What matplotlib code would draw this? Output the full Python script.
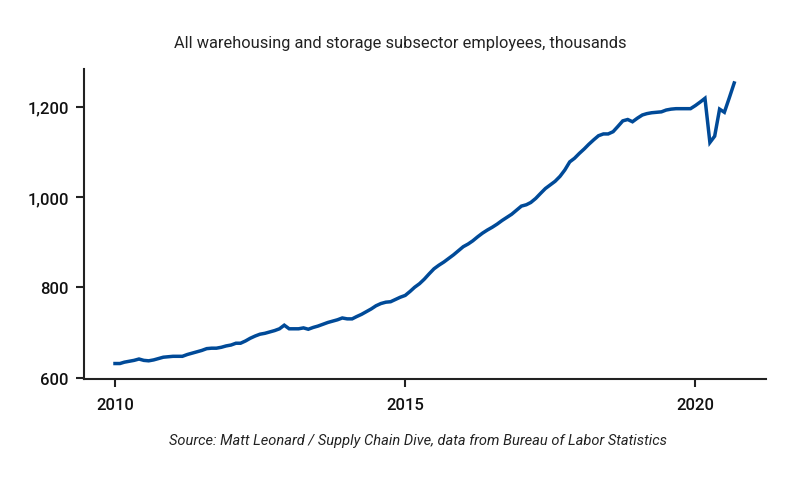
import pandas as pd
import matplotlib
matplotlib.use("Agg")
import matplotlib.pyplot as plt
import matplotlib.dates as mdates
from matplotlib.ticker import FuncFormatter

plt.rcParams['font.family'] = ['Roboto', 'DejaVu Sans']

# monthly employees (thousands), Jan 2010 - Sep 2020
employees = [
    631, 631, 634, 636, 638, 641, 638, 637, 639, 642, 645, 646,
    647, 647, 647, 651, 654, 657, 660, 664, 665, 665, 667, 670,
    672, 676, 676, 681, 687, 692, 696, 698, 701, 704, 708, 716,
    708, 708, 708, 710, 707, 711, 714, 718, 722, 725, 728, 732,
    730, 730, 735, 740, 746, 752, 759, 764, 767, 768, 773, 778,
    782, 791, 800, 808, 818, 830, 841, 849, 856, 864, 872, 881,
    890, 896, 903, 912, 920, 927, 933, 940, 948, 955, 962, 971,
    980, 983, 988, 997, 1008, 1019, 1027, 1035, 1046, 1060, 1078, 1086,
    1097, 1107, 1117, 1127, 1136, 1140, 1140, 1145, 1157, 1169, 1172, 1167,
    1175, 1182, 1185, 1187, 1188, 1189, 1193, 1195, 1196, 1196, 1196, 1196,
    1203, 1211, 1219, 1121, 1135, 1195, 1188, 1220, 1253,
]
months = pd.date_range('2010-01-01', periods=len(employees), freq='MS')

x_ticks = ['2010-01-01', '2015-01-01', '2020-01-01']
y_ticks = [600, 800, 1000, 1200]

fig = plt.figure(figsize=(8, 4.85), dpi=100)
ax = fig.add_axes([0.105, 0.2165, 0.8525, 0.6392])

ax.plot(months, employees, color='#004a98', lw=2.5, solid_joinstyle='miter')

ax.set_xlim(pd.Timestamp('2009-06-20'), pd.Timestamp('2021-03-20'))
ax.set_ylim(596.7, 1284)
ax.set_xticks([pd.Timestamp(t) for t in x_ticks])
ax.xaxis.set_major_formatter(mdates.DateFormatter('%Y'))
ax.set_yticks(y_ticks)
ax.yaxis.set_major_formatter(FuncFormatter(lambda v, p: f'{int(v):,}'))

for s in ['top', 'right']:
    ax.spines[s].set_visible(False)
for s in ['left', 'bottom']:
    ax.spines[s].set_linewidth(1.5)
    ax.spines[s].set_color('#222222')
ax.tick_params(direction='out', length=6, width=1.5, color='#222222',
               labelsize=12, labelcolor='#111111', pad=5)
for lab in ax.get_xticklabels() + ax.get_yticklabels():
    lab.set_fontweight('medium')
ax.tick_params(axis='x', pad=7)

fig.text(0.5, 0.911, 'All warehousing and storage subsector employees, thousands',
         ha='center', va='center', fontsize=11.8, color='#222222')
fig.text(0.522, 0.091,
         'Source: Matt Leonard / Supply Chain Dive, data from Bureau of Labor Statistics',
         ha='center', va='center', fontsize=10.5, style='italic', color='#222222')

fig.savefig('out.png', dpi=100)
